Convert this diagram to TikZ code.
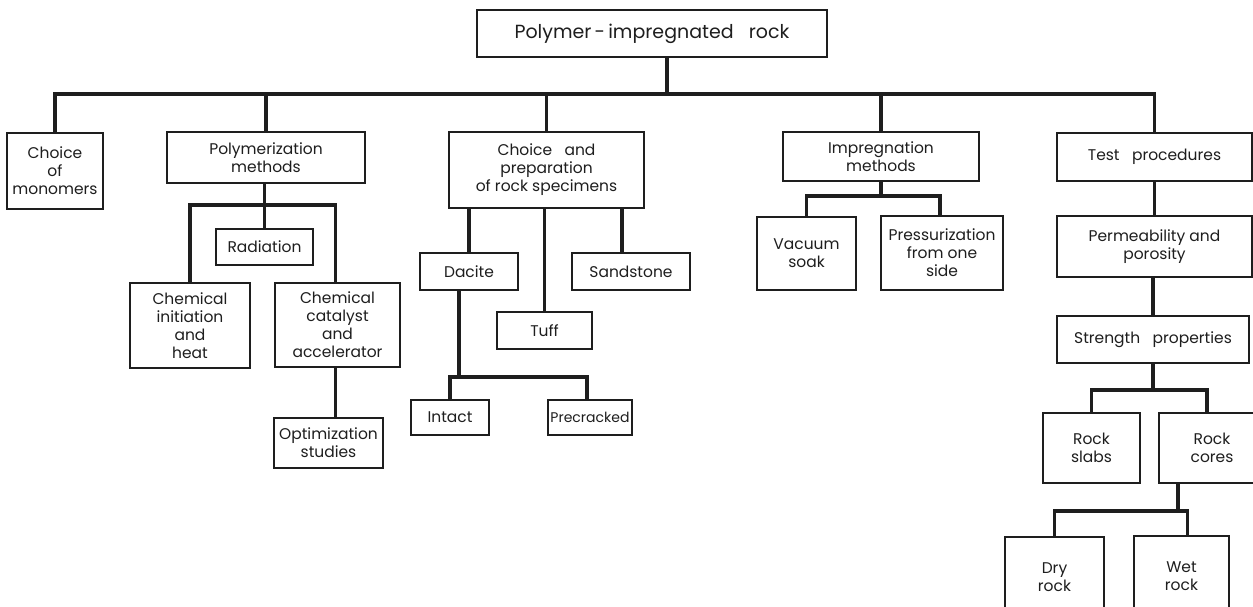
\documentclass[tikz,border=0pt]{standalone}
\usepackage{fontspec}
\setmainfont{Poppins}
\definecolor{ink}{HTML}{1E1E1E}
\newcommand{\boxfont}{\fontsize{15.5pt}{18pt}\selectfont}
\newcommand{\rootfont}{\fontsize{19pt}{22pt}\selectfont}
\newcommand{\smallboxfont}{\fontsize{14pt}{16pt}\selectfont}
\tikzset{
  box/.style={draw=ink, line width=1.4pt, inner sep=0pt, outer sep=0pt,
    align=center, font=\boxfont, text=ink},
  link/.style={draw=ink, line width=3.2pt, line join=miter},
}
\begin{document}
\begin{tikzpicture}[x=1pt, y=-1pt]
\useasboundingbox (0,0) rectangle (1253,606);
\clip (0,0) rectangle (1253,606);
\fill[white] (0,0) rectangle (1253,606);
% bus levels
\coordinate (busA) at (0,94);
\coordinate (busB) at (0,205);
\coordinate (busC) at (0,377);
\coordinate (busD) at (0,196);
\coordinate (busE) at (0,390);
\coordinate (busF) at (0,511);
% nodes
\node[box, font=\rootfont, minimum width=350pt, minimum height=47pt] (root) at (652,33.5) {Polymer\,-\,impregnated\ \ \ rock};
\node[box, minimum width=96pt, minimum height=76pt] (mono) at (55,171) {Choice\\of\\monomers};
\node[box, minimum width=198pt, minimum height=51pt] (polym) at (266,157.5) {Polymerization\\methods};
\node[box, minimum width=97pt, minimum height=36pt] (rad) at (264.5,247) {Radiation};
\node[box, minimum width=120pt, minimum height=85pt] (chemi) at (190,325.5) {Chemical\\initiation\\and\\heat};
\node[box, minimum width=125pt, minimum height=84pt] (chemc) at (337.5,325) {Chemical\\catalyst\\and\\accelerator};
\node[box, minimum width=109pt, minimum height=50pt] (optim) at (328.5,443) {Optimization\\studies};
\node[box, minimum width=195pt, minimum height=76pt] (prep) at (546.5,170) {Choice\ \ \ and\\preparation\\of rock specimens};
\node[box, minimum width=98pt, minimum height=37pt] (dacite) at (469,271.5) {Dacite};
\node[box, minimum width=95pt, minimum height=37pt] (tuff) at (544.5,330.5) {Tuff};
\node[box, minimum width=118pt, minimum height=37pt] (sand) at (631,271.5) {Sandstone};
\node[box, minimum width=78pt, minimum height=35pt] (intact) at (450,417.5) {Intact};
\node[box, minimum width=84pt, minimum height=35pt, font=\smallboxfont] (precr) at (590,417.5) {Precracked};
\node[box, minimum width=196pt, minimum height=49pt] (impreg) at (881,156.5) {\fontsize{15.5pt}{14pt}\selectfont Impregnation\\methods};
\node[box, minimum width=99pt, minimum height=73pt] (vac) at (806.5,253.5) {Vacuum\\soak};
\node[box, minimum width=122pt, minimum height=74pt] (press) at (942,253) {Pressurization\\from one\\side};
\node[box, minimum width=195pt, minimum height=48pt] (test) at (1154.5,157) {Test\ \ \ procedures};
\node[box, minimum width=195pt, minimum height=61pt] (perm) at (1154.5,246.5) {Permeability and\\porosity};
\node[box, minimum width=192pt, minimum height=47pt] (strength) at (1153,339.5) {Strength\ \ \ properties};
\node[box, minimum width=97pt, minimum height=70pt] (slabs) at (1091.5,448) {Rock\\slabs};
\node[box, minimum width=106pt, minimum height=70pt] (cores) at (1212,448) {Rock\\cores};
\node[box, minimum width=99pt, minimum height=80pt] (dry) at (1054.5,577) {Dry\\rock};
\node[box, minimum width=95pt, minimum height=81pt] (wet) at (1181.5,576.5) {Wet\\rock};
% top level
\draw[link] ([xshift=15pt]root.south) -- ([xshift=15pt]root.south |- busA);
\draw[link] (mono.north) -- (mono.north |- busA) -- (test.north |- busA) -- (test.north);
\draw[link] (polym.north) -- (polym.north |- busA);
\draw[link] (prep.north) -- (prep.north |- busA);
\draw[link] (impreg.north) -- (impreg.north |- busA);
% polymerization subtree
\draw[link] (rad.north) -- (rad.north |- polym.south);
\draw[link] (chemi.north) -- (chemi.north |- busB) -- ([xshift=-2pt]chemc.north |- busB) -- ([xshift=-2pt]chemc.north);
\draw[link] ([xshift=-2pt]chemc.south) -- ([xshift=-2pt]chemc.south |- optim.north);
% rock specimens subtree
\draw[link] (dacite.north) -- (dacite.north |- prep.south);
\draw[link] (tuff.north) -- (tuff.north |- prep.south);
\draw[link] ([xshift=-9pt]sand.north) -- ([xshift=-9pt]sand.north |- prep.south);
\draw[link] ([xshift=-10pt]dacite.south) -- ([xshift=-10pt]dacite.south |- busC);
\draw[link] (intact.north) -- (intact.north |- busC) -- ([xshift=-3pt]precr.north |- busC) -- ([xshift=-3pt]precr.north);
% impregnation subtree
\draw[link] (impreg.south) -- (impreg.south |- busD);
\draw[link] (vac.north) -- (vac.north |- busD) -- ([xshift=-2pt]press.north |- busD) -- ([xshift=-2pt]press.north);
% test subtree
\draw[link] (test.south) -- (perm.north);
\draw[link] (strength.north) -- (strength.north |- perm.south);
\draw[link] (strength.south) -- (strength.south |- busE);
\draw[link] (slabs.north) -- (slabs.north |- busE) -- ([xshift=-5pt]cores.north |- busE) -- ([xshift=-5pt]cores.north);
\draw[link] ([xshift=-34pt]cores.south) -- ([xshift=-34pt]cores.south |- busF);
\draw[link] (dry.north) -- (dry.north |- busF) -- ([xshift=6pt]wet.north |- busF) -- ([xshift=6pt]wet.north);
\end{tikzpicture}
\end{document}
